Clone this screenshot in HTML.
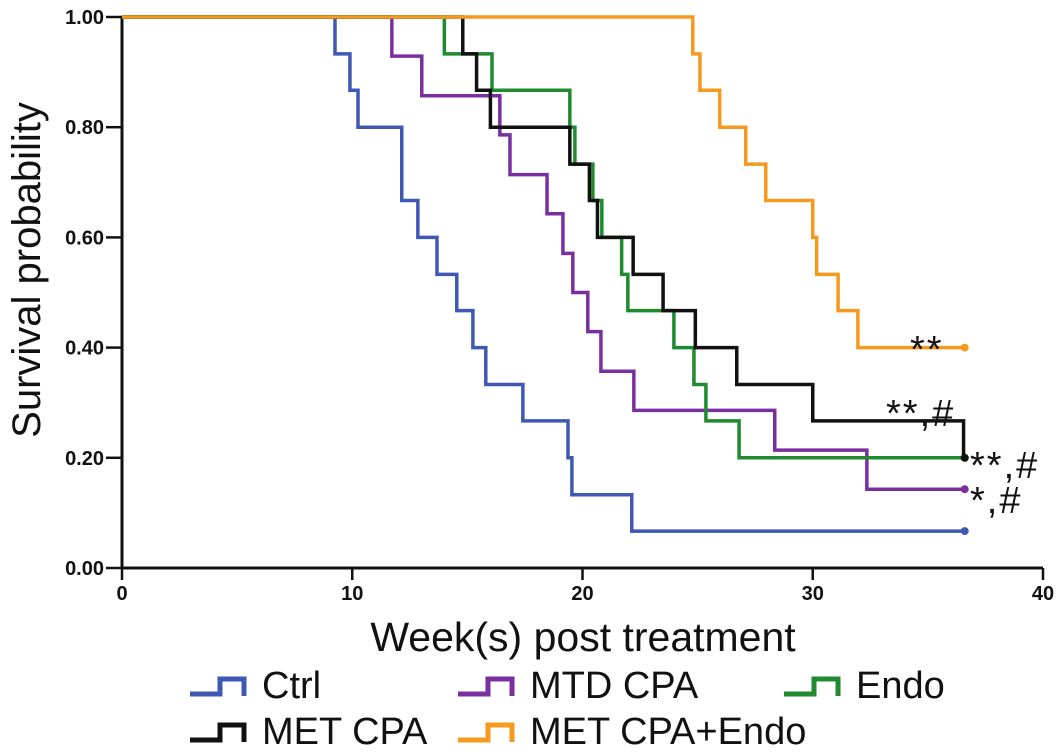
<!DOCTYPE html>
<html><head><meta charset="utf-8"><style>
body{margin:0;background:#fff;width:1063px;height:754px;overflow:hidden}
svg{display:block}
text{font-family:"Liberation Sans",Arial,sans-serif;fill:#111}
</style></head><body>
<svg id="chart" width="1063" height="754" viewBox="0 0 1063 754"></svg>
<script>
const tickX = [0,10,20,30,40];
const tickY = [0,0.2,0.4,0.6,0.8,1.0];
const tickYLabels = ["0.00","0.20","0.40","0.60","0.80","1.00"];
const endWeek = 36.6;
const ctrlTimes = [9.25,9.9,10.25,12.15,12.85,13.68,14.54,15.24,15.8,17.41,19.37,19.54,22.14];
const ctrlSurv  = [0.933,0.867,0.80,0.667,0.60,0.533,0.467,0.40,0.333,0.267,0.20,0.133,0.067];
const mtdTimes = [11.72,13.02,16.41,16.85,18.46,19.15,19.58,20.23,20.8,22.23,28.35,32.35];
const mtdSurv  = [0.929,0.857,0.786,0.714,0.643,0.571,0.50,0.429,0.357,0.286,0.214,0.143];
const endoTimes = [14.0,16.07,19.45,19.67,20.45,20.84,21.7,21.97,23.97,24.84,25.36,26.8];
const endoSurv  = [0.933,0.867,0.80,0.733,0.667,0.60,0.533,0.467,0.40,0.333,0.267,0.20];
const metTimes = [14.8,15.4,16.0,19.45,20.3,20.65,22.2,23.5,24.9,26.7,30.0,36.55];
const metSurv  = [0.933,0.867,0.80,0.733,0.667,0.60,0.533,0.467,0.40,0.333,0.267,0.20];
const comboTimes = [24.79,25.1,25.96,27.09,27.96,30.0,30.17,31.1,31.96];
const comboSurv  = [0.933,0.867,0.80,0.733,0.667,0.60,0.533,0.467,0.40];

const svg = document.getElementById('chart');
const NS = 'http://www.w3.org/2000/svg';
const X0=122, X1=1043, Y0=568, Y1=17;
function xs(v){return X0+(X1-X0)*v/40;}
function ys(v){return Y0-(Y0-Y1)*v;}
function mk(tag, attrs){const e=document.createElementNS(NS,tag);for(const k in attrs)e.setAttribute(k,attrs[k]);svg.appendChild(e);return e;}

let e = mk('line',{x1:X0,y1:Y0,x2:X1,y2:Y0,stroke:'#111','stroke-width':3});


e = mk('line',{x1:X0,y1:Y0+1,x2:X0,y2:Y1,stroke:'#111','stroke-width':3});


tickX.forEach(v=>{
  let t=mk('line',{x1:xs(v),y1:Y0,x2:xs(v),y2:Y0+12,stroke:'#111','stroke-width':2.5});
  
  
  let l=mk('text',{x:xs(v),y:Y0+32,'text-anchor':'middle','font-size':20,'font-weight':'bold'});
  l.textContent=v;
  
  
});
tickY.forEach((v,i)=>{
  let t=mk('line',{x1:X0-16,y1:ys(v),x2:X0,y2:ys(v),stroke:'#111','stroke-width':2.5});
  
  
  let l=mk('text',{x:X0-18,y:ys(v)+7,'text-anchor':'end','font-size':20,'font-weight':'bold'});
  l.textContent=tickYLabels[i];
  
  
});
let xt=mk('text',{x:583,y:651,'text-anchor':'middle','font-size':41});
xt.textContent='Week(s) post treatment';


let yt=mk('text',{x:0,y:0,'text-anchor':'middle','font-size':40,transform:'translate(40,270) rotate(-90)'});
yt.textContent='Survival probability';



function curve(times, surv, color, name){
  let d='M'+X0+','+ys(1);
  let prev=1;
  times.forEach((t,i)=>{d+=' H'+xs(t)+' V'+ys(surv[i]);prev=surv[i];});
  d+=' H'+xs(endWeek);
  const p=mk('path',{d:d,fill:'none',stroke:color,'stroke-width':3.5});
  
  
  const m=mk('circle',{cx:xs(endWeek),cy:ys(prev),r:4,fill:color});
  
  
}
curve(ctrlTimes,ctrlSurv,'#3f57b5','ctrl');
curve(mtdTimes,mtdSurv,'#7a2fa0','mtd-cpa');
curve(endoTimes,endoSurv,'#1f8a2f','endo');
curve(metTimes,metSurv,'#111111','met-cpa');
curve(comboTimes,comboSurv,'#f59a1e','met-cpa-endo');

function ann(x,y,s,name){const t=mk('text',{x:x,y:y,'font-size':38,'letter-spacing':2});t.textContent=s;

}
ann(910,362,'**','annotation-combo');
ann(886,426,'**,#','annotation-met');
ann(970,478,'**,#','annotation-endo');
ann(970,513,'*,#','annotation-mtd');

function legend(ix,iy,color,label,name){
  const g=mk('path',{d:`M${ix},${iy} H${ix+30} V${iy-15} H${ix+54} V${iy+2}`,fill:'none',stroke:color,'stroke-width':5});
  
  
  const t=mk('text',{x:ix+72,y:iy+4,'font-size':38});t.textContent=label;
  
  
}
legend(190,694,'#3f57b5','Ctrl','ctrl');
legend(458,694,'#7a2fa0','MTD CPA','mtd-cpa');
legend(784,694,'#1f8a2f','Endo','endo');
legend(190,740,'#111111','MET CPA','met-cpa');
legend(458,740,'#f59a1e','MET CPA+Endo','met-cpa-endo');
</script>
</body></html>
